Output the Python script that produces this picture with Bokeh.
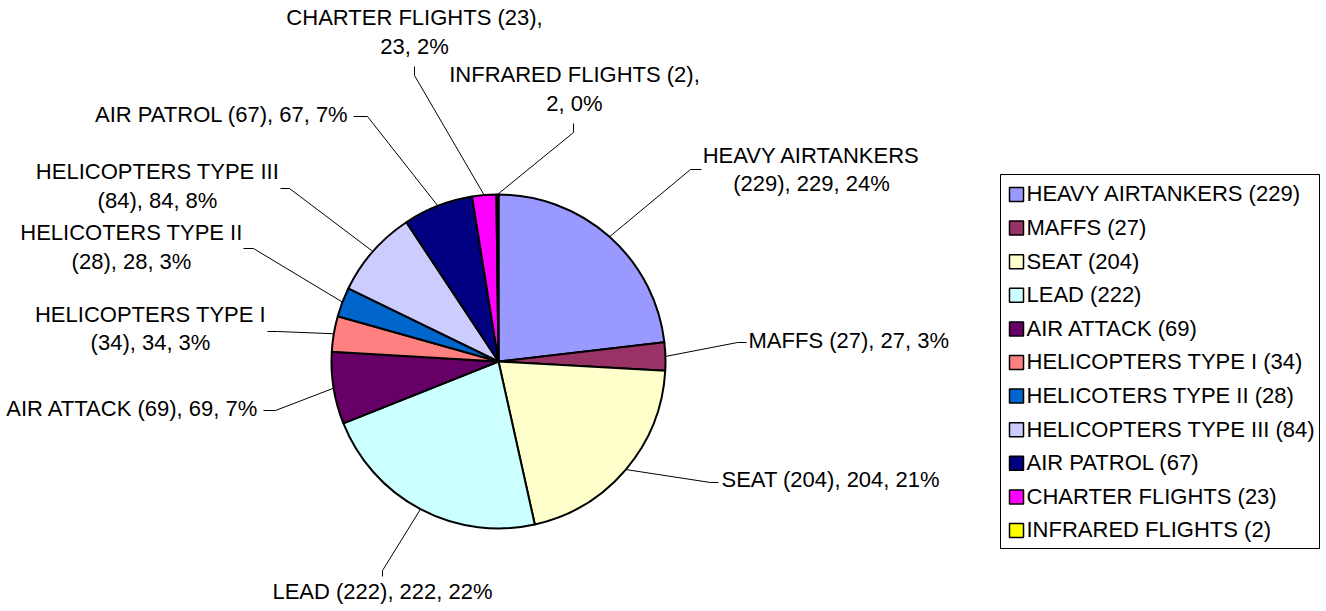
import math
from bokeh.plotting import figure
from bokeh.models import Range1d
from bokeh.core.properties import value
from bokeh.embed import file_html
from bokeh.resources import INLINE

# ---------------- data ----------------
categories = ["HEAVY AIRTANKERS", "MAFFS", "SEAT", "LEAD", "AIR ATTACK",
              "HELICOPTERS TYPE I", "HELICOTERS TYPE II", "HELICOPTERS TYPE III",
              "AIR PATROL", "CHARTER FLIGHTS", "INFRARED FLIGHTS"]
values = [229, 27, 204, 222, 69, 34, 28, 84, 67, 23, 2]
pct_labels = ["24%", "3%", "21%", "22%", "7%", "3%", "3%", "8%", "7%", "2%", "0%"]
colors = ["#9999FF", "#993366", "#FFFFCC", "#CCFFFF", "#660066", "#FF8080",
          "#0066CC", "#CCCCFF", "#000080", "#FF00FF", "#FFFF00"]

# ---------------- layout (screen px) ----------------
W, H = 1322, 608
SH = 611  # screen height used for flipping y
def fy(y):
    return SH - y

CX, CY, R = 498, 361, 167
FONT = value("Liberation Sans")
FSIZE = "22px"
CAP = -0.7  # baseline offset from cap centre (empirical)

# label placement: (break mode, anchor x, first line cap-centre y, line gap, align)
# break mode: 0 single line, 1 after name, 2 after "(v),"
label_layout = [
    (1, 811, 156, 28, "center"),
    (0, 748, 341, 0, "left"),
    (0, 721, 480, 0, "left"),
    (0, 382, 592, 0, "center"),
    (0, 258, 409, 0, "right"),
    (1, 150, 315, 28, "center"),
    (1, 131, 233, 29, "center"),
    (1, 157, 172, 29, "center"),
    (0, 348, 115, 0, "right"),
    (2, 414, 18, 29, "center"),
    (2, 574, 75, 29, "center"),
]
# leader lines: elbow point and end point near the label
leader_layout = [
    ((690, 169), (701, 169)),
    ((737, 342), (746, 342)),
    ((710, 482), (718, 482)),
    ((382, 570), (382, 576)),
    ((275, 410), (263, 410)),
    ((277, 331), (267, 331)),
    ((253, 248), (243, 248)),
    ((289, 188), (280, 188)),
    ((367, 116), (353, 116)),
    ((414, 75), (414, 66)),
    ((573, 132), (573, 123)),
]

p = figure(width=W, height=H, output_backend="svg", toolbar_location=None,
           x_range=Range1d(0, W), y_range=Range1d(SH - H, SH),
           x_axis_location=None, y_axis_location=None,
           min_border=0, min_border_left=0, min_border_right=0,
           min_border_top=0, min_border_bottom=0)
p.grid.visible = False
p.outline_line_color = None
p.background_fill_color = "white"
p.border_fill_color = "white"

total = float(sum(values))
starts, ends, mids = [], [], []
cum = 0.0
for v in values:
    a0 = math.pi / 2 - 2 * math.pi * cum / total
    cum += v
    a1 = math.pi / 2 - 2 * math.pi * cum / total
    starts.append(a0)
    ends.append(a1)
    mids.append((a0 + a1) / 2)

p.wedge(x=CX, y=fy(CY), radius=R, start_angle=starts, end_angle=ends,
        direction="clock", fill_color=colors, line_color="black", line_width=2)

# leader lines
xs, ys = [], []
for m, (el, en) in zip(mids, leader_layout):
    px = CX + R * math.cos(m)
    py = fy(CY) + R * math.sin(m)
    xs.append([px, el[0], en[0]])
    ys.append([py, fy(el[1]), fy(en[1])])
p.multi_line(xs=xs, ys=ys, line_color="black", line_width=1)

# data labels
tx, ty, tt, ta = [], [], [], []
for cat, v, pc, (mode, x, y0, gap, align) in zip(categories, values, pct_labels, label_layout):
    if mode == 0:
        lines = [f"{cat} ({v}), {v}, {pc}"]
    elif mode == 1:
        lines = [cat, f"({v}), {v}, {pc}"]
    else:
        lines = [f"{cat} ({v}),", f"{v}, {pc}"]
    for i, ln in enumerate(lines):
        tx.append(x)
        ty.append(fy(y0 + i * gap + CAP))
        tt.append(ln)
        ta.append(align)
for al in ["left", "center", "right"]:
    idx = [i for i in range(len(tt)) if ta[i] == al]
    p.text(x=[tx[i] for i in idx], y=[ty[i] for i in idx], text=[tt[i] for i in idx],
           text_font=FONT, text_font_size=FSIZE, text_align=al,
           text_baseline="alphabetic", text_color="black")

# legend box
LX0, LX1, LY0, LY1 = 1000, 1319, 174, 548
p.quad(left=[LX0], right=[LX1], top=[fy(LY0)], bottom=[fy(LY1)],
       fill_color="white", line_color="black", line_width=1)
row0, step = 194, 33.6
rows = [row0 + i * step for i in range(len(categories))]
p.quad(left=[1009] * len(rows), right=[1023] * len(rows),
       top=[fy(r - 7) for r in rows], bottom=[fy(r + 7) for r in rows],
       fill_color=colors, line_color="black", line_width=1.5)
p.text(x=[1026] * len(rows), y=[fy(r + CAP) for r in rows],
       text=[f"{c} ({v})" for c, v in zip(categories, values)],
       text_font=FONT, text_font_size=FSIZE, text_align="left",
       text_baseline="alphabetic", text_color="black")

open("out.html", "w").write(file_html(p, INLINE))
